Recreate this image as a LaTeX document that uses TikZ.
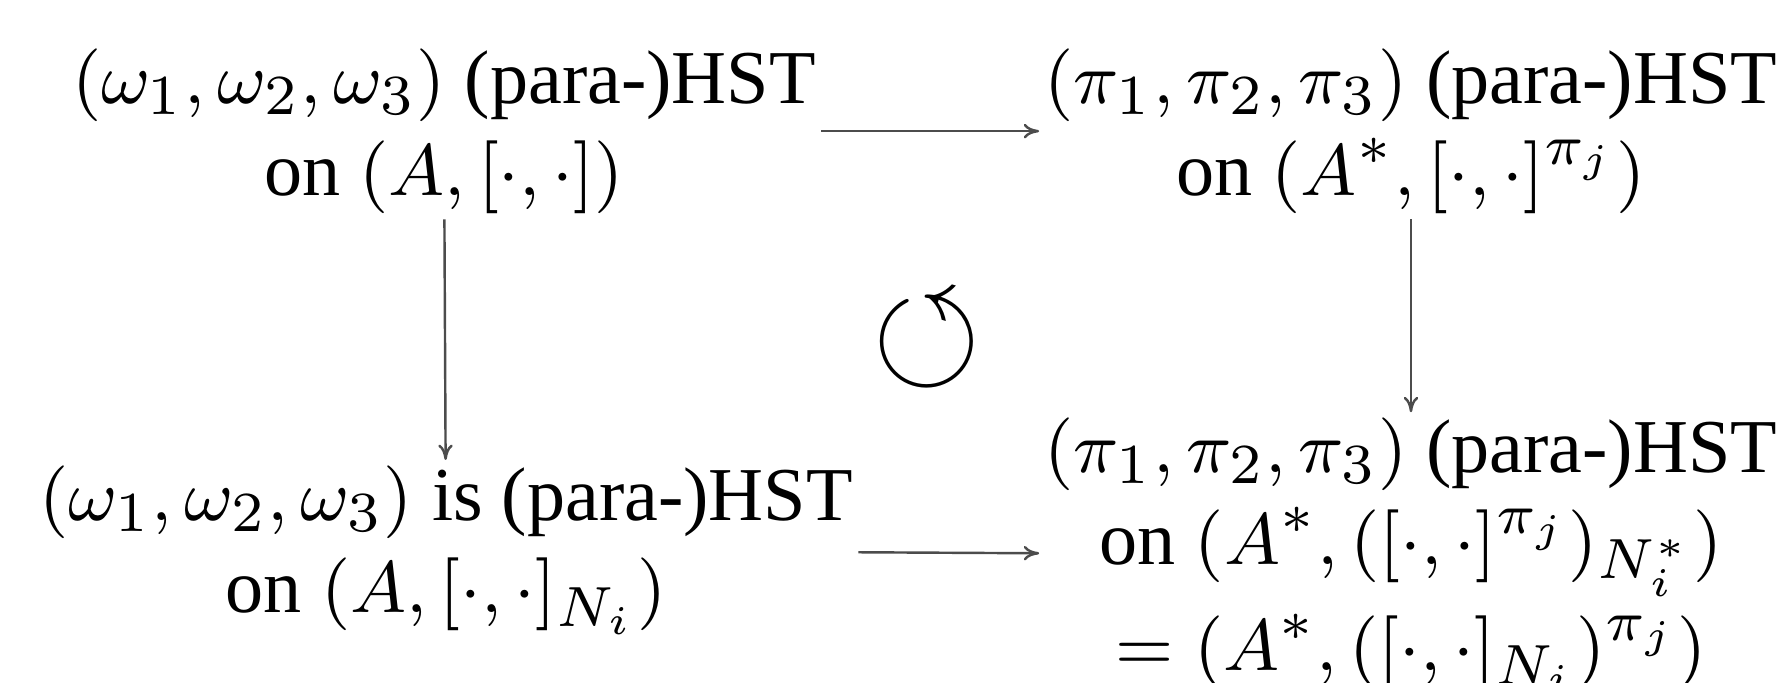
\documentclass[tikz,border=0pt]{standalone}
\usepackage{amsmath,amssymb}
\usepackage[no-math]{fontspec}
\setmainfont{Liberation Serif}
\usepackage{tikz}
\usetikzlibrary{arrows.meta}
\tikzset{
  hst/.style={align=center,inner sep=0.5pt,font=\fontsize{9.4}{11.4}\selectfont},
  maparrow/.style={-{To[length=1.9pt,width=1.8pt]},line width=0.3pt,black!70},
}

\begin{document}
\begin{tikzpicture}
  \useasboundingbox (0,0) rectangle (7.717,-2.960);
  % the four statements
  \node[hst] (tl) at (1.927,-0.569)
    {$(\omega_1,\omega_2,\omega_3)$ (para-)HST\\ on $(A,[\cdot,\cdot])$};
  \node[hst] (tr) at (6.124,-0.569)
    {$(\pi_1,\pi_2,\pi_3)$ (para-)HST\\ on $(A^*,[\cdot,\cdot]^{\pi_j})$};
  \node[hst] (bl) at (1.936,-2.387)
    {$(\omega_1,\omega_2,\omega_3)$ is (para-)HST\\ on $(A,[\cdot,\cdot]_{N_i})$};
  \node[hst] (br) at (6.124,-2.410)
    {$(\pi_1,\pi_2,\pi_3)$ (para-)HST\\
     on $(A^*,([\cdot,\cdot]^{\pi_j})_{N_i^*})$\\[1.7pt]
     $=(A^*,([\cdot,\cdot]_{N_i})^{\pi_j})$};
  % commuting symbol
  \node[font=\LARGE] (loop) at (4.023,-1.480) {$\circlearrowleft$};
  % maps
  \draw[maparrow] (tl) -- (tr);
  \draw[maparrow] (tl) -- (bl);
  \draw[maparrow] (tr) -- (br);
  \draw[maparrow] (bl) -- (br);
\end{tikzpicture}
\end{document}
